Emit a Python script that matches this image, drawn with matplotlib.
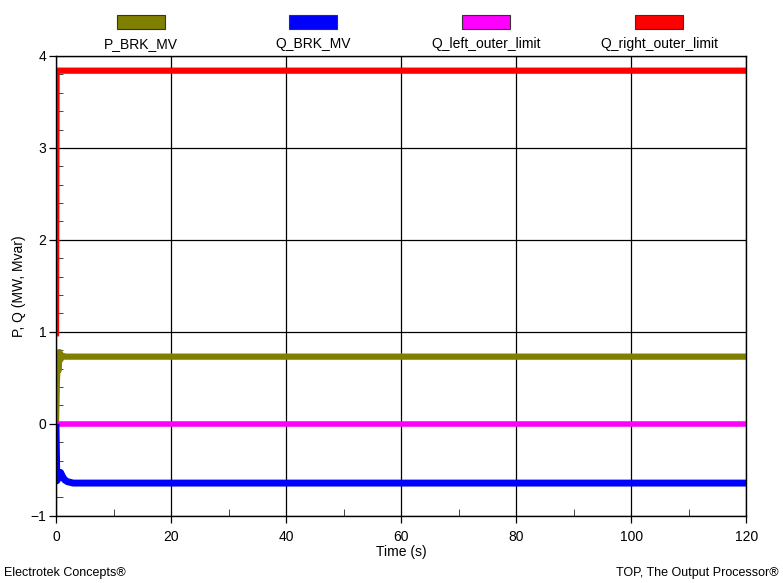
import matplotlib.pyplot as plt
from matplotlib.patches import Rectangle
from matplotlib.ticker import MultipleLocator

plt.rcParams['font.family'] = ['Liberation Sans', 'DejaVu Sans']

# traces (time in s, value in MW / Mvar)
t_p = [0, 0.15, 0.3, 0.45, 0.6, 0.8, 1.1, 1.6, 120]
p_brk = [0, 0.45, 0.7, 0.58, 0.78, 0.7, 0.74, 0.73, 0.73]

t_q = [0, 0.15, 0.3, 0.5, 0.8, 1.1, 1.5, 2.0, 3.0, 120]
q_brk = [0, -0.62, -0.6, -0.55, -0.53, -0.57, -0.61, -0.63, -0.645, -0.645]

t_left = [0, 120]
q_left = [0, 0]

t_right = [0, 0.1, 0.2, 120]
q_right = [0.95, 3.8, 3.84, 3.84]

names = ['P_BRK_MV', 'Q_BRK_MV', 'Q_left_outer_limit', 'Q_right_outer_limit']
colors = ['#808000', '#0000ff', '#ff00ff', '#ff0000']

fig = plt.figure(figsize=(7.83, 5.83), dpi=100)
ax = fig.add_axes([0.0715, 0.1154, 0.8815, 0.7886])

ax.plot(t_right, q_right, color=colors[3], lw=4.5, solid_capstyle='butt')
ax.plot(t_p, p_brk, color=colors[0], lw=4.5, solid_capstyle='butt')
ax.plot(t_left, q_left, color=colors[2], lw=4, solid_capstyle='butt')
ax.plot(t_q, q_brk, color=colors[1], lw=5, solid_capstyle='butt')

ax.set_xlim(0, 120)
ax.set_ylim(-1, 4)
ax.xaxis.set_major_locator(MultipleLocator(20))
ax.xaxis.set_minor_locator(MultipleLocator(10))
ax.yaxis.set_major_locator(MultipleLocator(1))
ax.yaxis.set_minor_locator(MultipleLocator(0.2))
ax.grid(True, which='major', color='black', lw=0.9)
ax.tick_params(which='major', direction='out', length=5, width=0.9, labelsize=10, pad=2)
ax.tick_params(axis='x', which='major', pad=5)
ax.tick_params(which='minor', direction='in', length=5, width=0.7, color='#444444')
for s in ax.spines.values():
    s.set_linewidth(1)

ax.set_xlabel('Time (s)', fontsize=10, labelpad=1)
ax.set_ylabel('P, Q (MW, Mvar)', fontsize=10, labelpad=3)

# legend: boxes above labels
xs = [141, 313, 486, 659]
W, H = 783, 583
for x, c, n in zip(xs, colors, names):
    fig.patches.append(Rectangle(((x - 24) / W, 1 - 29 / H), 48 / W, 14 / H,
                                 transform=fig.transFigure, facecolor=c,
                                 edgecolor='#333333', lw=0.8))
    fig.text(x / W, 1 - 44 / H, n, ha='center', va='center', fontsize=10)

fig.text(4 / W, 1 - 573 / H, 'Electrotek Concepts®', fontsize=9, va='center')
fig.text(779 / W, 1 - 573 / H, 'TOP, The Output Processor®', fontsize=9,
         va='center', ha='right')

fig.savefig('out.png', dpi=100)
